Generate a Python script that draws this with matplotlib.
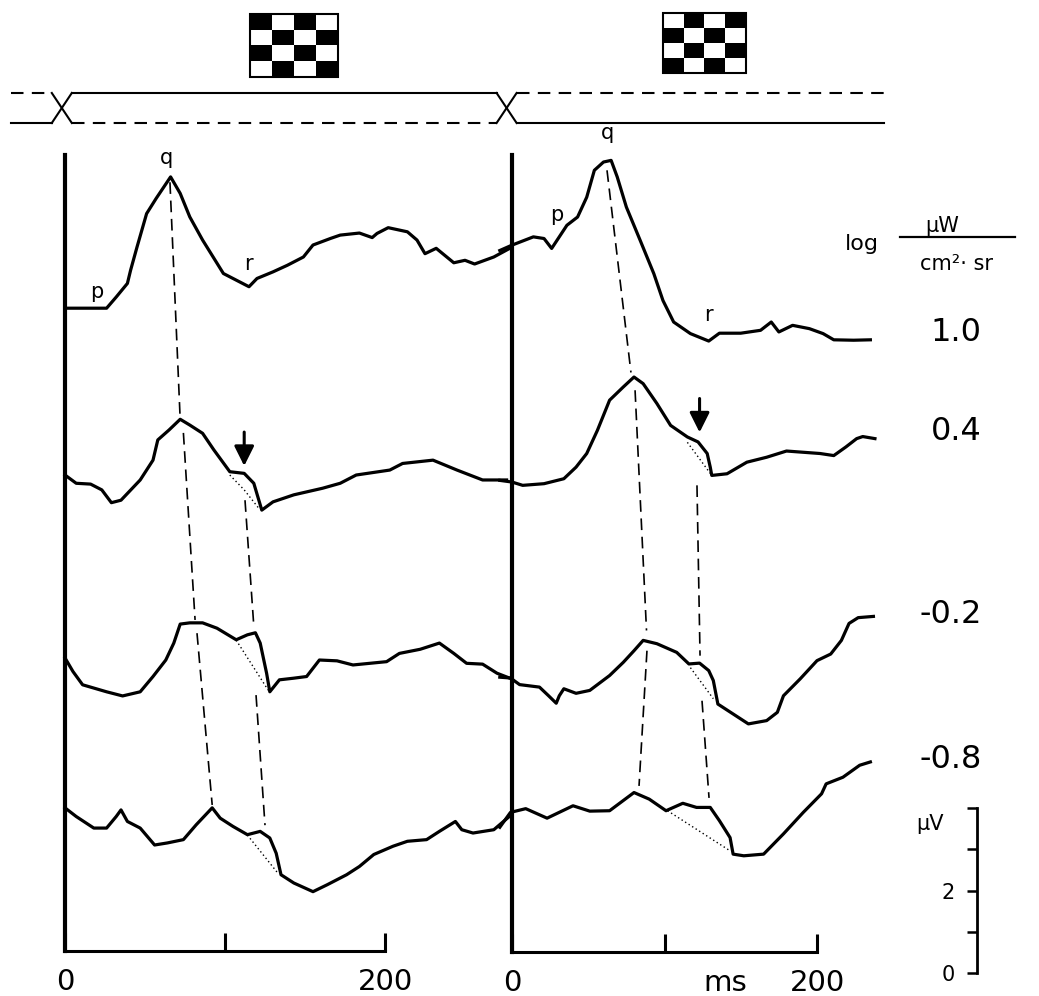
import numpy as np
import matplotlib.pyplot as plt
from matplotlib.patches import Rectangle

plt.rcParams['font.family'] = ['DejaVu Sans']

# luminance levels (log uW / cm2 sr) and where each trace sits on the uV scale
levels = ["1.0", "0.4", "-0.2", "-0.8"]
baseline_uv = [16.10, 12.06, 7.63, 4.00]

# first reversal (left panel): time in ms, amplitude in uV relative to baseline
t_a = [
    [0, 26, 32, 39, 41, 45, 51, 57, 66, 72, 78, 86, 99, 109, 115, 120, 130, 139, 149, 155,
     166, 172, 184, 192, 195, 202, 214, 220, 225, 232, 243, 250, 256, 268, 278],
    [0, 7, 16, 23, 29, 35, 47, 55, 58, 65, 72, 78, 86, 93, 103, 112, 118, 123, 130, 143,
     161, 172, 182, 203, 211, 230, 245, 261, 276],
    [0, 5, 11, 26, 36, 47, 55, 63, 68, 72, 78, 86, 95, 107, 114, 119, 122, 126, 128, 134,
     143, 151, 159, 170, 180, 201, 209, 222, 234, 243, 251, 261, 270, 278],
    [0, 7, 18, 26, 32, 35, 39, 47, 56, 64, 74, 82, 92, 97, 105, 114, 122, 128, 132, 135,
     143, 155, 164, 176, 184, 193, 205, 214, 226, 234, 244, 248, 255, 268, 278],
]
uv_a = [
    [0, 0, 0.27, 0.60, 0.92, 1.48, 2.29, 2.66, 3.18, 2.78, 2.21, 1.65, 0.84, 0.64, 0.52, 0.72,
     0.88, 1.04, 1.24, 1.53, 1.69, 1.77, 1.82, 1.71, 1.81, 1.95, 1.85, 1.65, 1.32, 1.45, 1.10,
     1.16, 1.07, 1.24, 1.45],
    [0, -0.20, -0.22, -0.36, -0.67, -0.61, -0.12, 0.36, 0.85, 1.09, 1.35, 1.21, 1.01, 0.61,
     0.08, 0.04, -0.20, -0.85, -0.65, -0.48, -0.32, -0.20, 0, 0.12, 0.28, 0.36, 0.12, -0.12, -0.12],
    [0, -0.33, -0.65, -0.82, -0.92, -0.82, -0.45, -0.05, 0.36, 0.82, 0.85, 0.85, 0.72, 0.44,
     0.56, 0.61, 0.36, -0.37, -0.82, -0.53, -0.49, -0.45, -0.05, -0.07, -0.17, -0.09, 0.11,
     0.21, 0.36, 0.11, -0.13, -0.15, -0.37, -0.49],
    [0, -0.21, -0.49, -0.49, -0.21, -0.05, -0.33, -0.49, -0.90, -0.85, -0.77, -0.41, 0, -0.25,
     -0.45, -0.65, -0.57, -0.73, -1.10, -1.62, -1.82, -2.03, -1.86, -1.62, -1.42, -1.13, -0.93,
     -0.81, -0.77, -0.57, -0.33, -0.53, -0.61, -0.53, -0.20],
]

# second reversal (right panel)
t_b = [
    [-8, 0, 14, 21, 26, 31, 36, 43, 49, 54, 60, 65, 69, 75, 84, 93, 99, 106, 117, 129, 136,
     150, 163, 170, 175, 184, 195, 204, 211, 224, 235],
    [-8, 0, 7, 21, 34, 42, 49, 56, 64, 73, 80, 86, 95, 104, 115, 122, 128, 130, 131, 141, 154,
     167, 180, 202, 211, 219, 226, 230, 238],
    [-8, -1, 5, 18, 24, 29, 31, 34, 42, 51, 64, 73, 80, 86, 95, 108, 116, 123, 129, 132, 135,
     145, 155, 167, 174, 178, 189, 200, 209, 216, 221, 227, 237],
    [-8, -1, 9, 23, 40, 51, 64, 80, 90, 101, 112, 121, 130, 136, 143, 145, 152, 165, 178, 191,
     203, 206, 217, 228, 235],
]
uv_b = [
    [1.40, 1.53, 1.73, 1.69, 1.45, 1.73, 2.01, 2.21, 2.69, 3.34, 3.54, 3.58, 3.18, 2.45, 1.65,
     0.84, 0.19, -0.33, -0.61, -0.79, -0.60, -0.60, -0.53, -0.33, -0.57, -0.41, -0.49, -0.61,
     -0.76, -0.77, -0.76],
    [-0.12, -0.16, -0.24, -0.20, -0.08, 0.20, 0.53, 1.09, 1.82, 2.14, 2.38, 2.22, 1.74, 1.21,
     0.93, 0.81, 0.53, 0.20, 0, 0.04, 0.32, 0.44, 0.59, 0.53, 0.48, 0.69, 0.89, 0.94, 0.89],
    [-0.45, -0.47, -0.63, -0.69, -0.90, -1.08, -0.90, -0.73, -0.84, -0.77, -0.41, -0.09, 0.19,
     0.44, 0.36, 0.15, -0.13, -0.11, -0.29, -0.53, -1.10, -1.34, -1.58, -1.50, -1.30, -0.90,
     -0.49, -0.05, 0.11, 0.44, 0.85, 0.99, 1.02],
    [-0.45, -0.09, 0, -0.23, 0.07, -0.06, -0.05, 0.39, 0.23, -0.05, 0.13, 0.03, 0.03, -0.29,
     -0.70, -1.10, -1.14, -1.10, -0.61, -0.09, 0.36, 0.60, 0.76, 1.05, 1.13],
]

# dotted extrapolation under the notch (ms, uV rel. baseline)
dotted_a = [None, [(103, 0.0), (112, -0.36), (121, -0.80)], [(107, 0.43), (127, -0.78)],
            [(114, -0.66), (133, -1.58)]]
dotted_b = [None, [(115, 0.80), (130, 0.05)], [(117, -0.22), (132, -0.97)],
            [(102, -0.05), (143, -1.02)]]

# dashed latency lines (ms, absolute uV)
q_line_a = [[(65.6, 19.15), (71.9, 13.49)], [(74, 13.08), (81.3, 8.55)], [(82.5, 8.23), (92, 4.07)]]
n_line_a = [[(112.5, 11.45), (118.1, 8.35)], [(119.4, 6.73), (125, 3.58)]]
q_line_b = [[(62.3, 19.44), (78, 14.55)], [(80.7, 14.12), (88.2, 8.31)], [(88.5, 7.82), (83.3, 4.55)]]
n_line_b = [[(121.3, 11.82), (123.3, 7.70)], [(124.6, 6.61), (129.2, 4.26)]]

# arrows marking the notch on the 0.4 trace (ms, uV rel. baseline top -> tip)
arrow_a = (112, 1.04, 0.22)
arrow_b = (123, 1.86, 1.04)

# peak labels (ms, absolute uV)
peaks_a = [("p", 19.8, 16.50), ("q", 63.5, 19.73), ("r", 114.6, 17.18)]
peaks_b = [("p", 29.3, 18.35), ("q", 62.3, 20.34), ("r", 128.7, 15.93)]

# stimulus: pattern reversals (ms on the left time base)
reversal_ms = [-2, 276]
stim_span = (-34, 512)

W, H = 1039, 996


def box(x0, y0, x1, y1):
    return [x0 / W, 1 - y1 / H, (x1 - x0) / W, (y1 - y0) / H]


fig = plt.figure(figsize=(W / 100, H / 100), dpi=100)
ax_a = fig.add_axes(box(65, 155, 385, 951))
ax_b = fig.add_axes(box(512, 155, 817, 952))

ylim = (0.533, 19.81)
for ax in (ax_a, ax_b):
    ax.set_xlim(0, 200)
    ax.set_ylim(*ylim)
    ax.patch.set_alpha(0)
    for s in ("top", "right"):
        ax.spines[s].set_visible(False)
    ax.spines["left"].set_linewidth(3)
    ax.spines["bottom"].set_linewidth(2.2)
    ax.set_yticks([])
    ax.set_xticks([0, 100, 200])
    ax.tick_params(axis="x", direction="in", length=13, width=2.2, pad=12, labelsize=21)

ax_a.set_xticklabels(["0", "", "200"])
ax_b.set_xticklabels(["0", "", "200"])
ax_b.annotate("ms", xy=(140, 0), xycoords=("data", "axes fraction"), xytext=(0, -12),
              textcoords="offset points", ha="center", va="top", fontsize=21)

for ax, ts, vs, dots in ((ax_a, t_a, uv_a, dotted_a), (ax_b, t_b, uv_b, dotted_b)):
    for i in range(len(levels)):
        ax.plot(ts[i], np.array(vs[i]) + baseline_uv[i], color="black", lw=2.3,
                clip_on=False, solid_joinstyle="round")
        if dots[i]:
            dx = [p[0] for p in dots[i]]
            dy = [p[1] + baseline_uv[i] for p in dots[i]]
            ax.plot(dx, dy, color="black", lw=1.0, ls=(0, (1, 2)), clip_on=False)

for ax, segs in ((ax_a, q_line_a + n_line_a), (ax_b, q_line_b + n_line_b)):
    for seg in segs:
        ax.plot([seg[0][0], seg[1][0]], [seg[0][1], seg[1][1]], color="black",
                lw=1.2, ls=(0, (7, 4)), clip_on=False)

for ax, (t, top, tip) in ((ax_a, arrow_a), (ax_b, arrow_b)):
    ax.annotate("", xy=(t, tip + baseline_uv[1]), xytext=(t, top + baseline_uv[1]),
                arrowprops=dict(arrowstyle="-|>,head_width=0.3,head_length=0.6",
                                color="black", lw=2.2, mutation_scale=20, shrinkA=0, shrinkB=0))

for ax, labels in ((ax_a, peaks_a), (ax_b, peaks_b)):
    for s, t, v in labels:
        ax.text(t, v, s, fontsize=15, ha="center", va="center")

# level labels on the right
for lab, y in zip(levels, [15.52, 13.12, 8.69, 5.18]):
    ax_b.text(308, y, lab, fontsize=23, ha="right", va="center")
ax_b.text(229.5, 17.66, "log", fontsize=16, ha="center", va="center")
ax_b.text(282, 18.10, "\u03bcW", fontsize=15, ha="center", va="center")
ax_b.plot([254.4, 329.8], [17.82, 17.82], color="black", lw=1.6, clip_on=False)
ax_b.text(291.8, 17.18, "cm\u00b2\u00b7 sr", fontsize=15, ha="center", va="center")

# uV scale bar
ax_s = fig.add_axes(box(969, 808, 977, 973))
ax_s.patch.set_alpha(0)
ax_s.set_ylim(0, 4)
ax_s.set_xticks([])
for s in ("left", "top", "bottom"):
    ax_s.spines[s].set_visible(False)
ax_s.spines["right"].set_linewidth(2)
ax_s.set_yticks([0, 1, 2, 3, 4])
ax_s.set_yticklabels(["0", "", "2", "", ""])
ax_s.tick_params(axis="y", left=False, right=True, labelleft=True, labelright=False,
                 direction="in", length=7, width=1.8, pad=10, labelsize=15)
ax_s.annotate("\u03bcV", xy=(0, 3.62), xycoords=("axes fraction", "data"), xytext=(-18, 0),
              textcoords="offset points", ha="right", va="center", fontsize=15)

# stimulus diagram + checkerboards
ax_t = fig.add_axes(box(65, 0, 385, 140))
ax_t.axis("off")
hw = 6.25
edges = [stim_span[0]] + [e for r in reversal_ms for e in (r - hw, r + hw)] + [stim_span[1]]
upper_dashed = True
for k in range(0, len(edges), 2):
    x0, x1 = edges[k], edges[k + 1]
    ax_t.plot([x0, x1], [1, 1], color="black", lw=1.5, clip_on=False,
              ls=(0, (6, 4)) if upper_dashed else "-")
    ax_t.plot([x0, x1], [0, 0], color="black", lw=1.5, clip_on=False,
              ls="-" if upper_dashed else (0, (6, 4)))
    upper_dashed = not upper_dashed
for r in reversal_ms:
    ax_t.plot([r - hw, r + hw], [1, 0], color="black", lw=1.5, clip_on=False)
    ax_t.plot([r - hw, r + hw], [0, 1], color="black", lw=1.5, clip_on=False)

board = np.array([[1, 0, 1, 0], [0, 1, 0, 1], [1, 0, 1, 0], [0, 1, 0, 1]])
for b, (x0, x1, y0, y1) in ((board, (115.6, 170.6, 1.53, 3.63)),
                            (1 - board, (373.8, 425.6, 1.67, 3.67))):
    im = ax_t.imshow(b, cmap="gray_r", extent=(x0, x1, y0, y1), aspect="auto",
                     interpolation="nearest", vmin=0, vmax=1)
    im.set_clip_on(False)
    ax_t.add_patch(Rectangle((x0, y0), x1 - x0, y1 - y0, fill=False, lw=1.5,
                             ec="black", clip_on=False))
ax_t.set_xlim(0, 200)
ax_t.set_ylim(-0.567, 4.1)

fig.savefig("out.png", dpi=100, facecolor="white")
